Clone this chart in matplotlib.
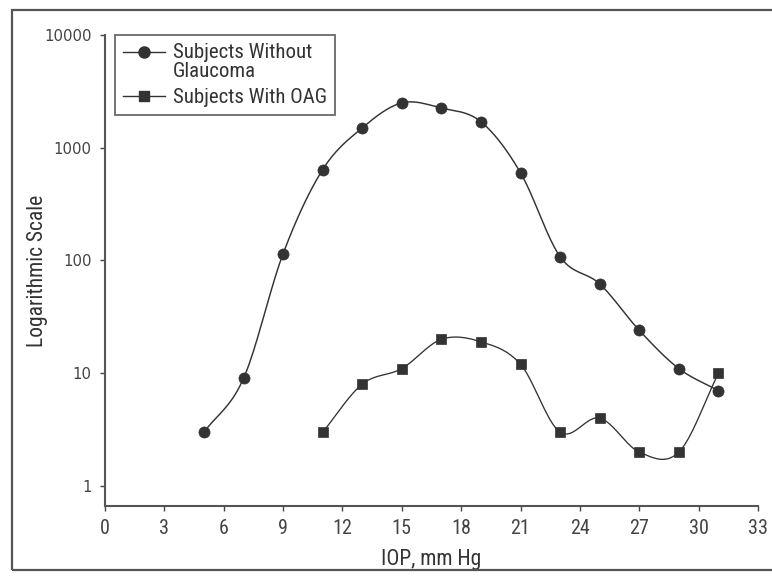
import numpy as np
import matplotlib
matplotlib.use("Agg")
import matplotlib.pyplot as plt
from matplotlib.patches import Rectangle
from matplotlib.lines import Line2D
from matplotlib.legend_handler import HandlerLine2D

x_no = [5, 7, 9, 11, 13, 15, 17, 19, 21, 23, 25, 27, 29, 31]
y_no = [3, 9, 115, 640, 1500, 2500, 2250, 1700, 600, 108, 62, 24, 11, 7]
x_oag = [11, 13, 15, 17, 19, 21, 23, 25, 27, 29, 31]
y_oag = [3, 8, 11, 20, 19, 12, 3, 4, 2, 2, 10]
xticks = list(range(0, 34, 3))
yticks = [1, 10, 100, 1000, 10000]
ytick_labels = ["1", "10", "100", "1000", "10000"]
labels = ['Subjects Without\nGlaucoma', 'Subjects With OAG']

COND = ['Roboto Condensed', 'Liberation Sans', 'DejaVu Sans']
plt.rcParams['font.family'] = COND

def smooth(xs, ys, n=20):
    xs = np.asarray(xs, float)
    ly = np.log10(np.asarray(ys, float))
    px = np.concatenate([[2*xs[0]-xs[1]], xs, [2*xs[-1]-xs[-2]]])
    py = np.concatenate([[2*ly[0]-ly[1]], ly, [2*ly[-1]-ly[-2]]])
    ox, oy = [], []
    for i in range(1, len(px)-2):
        t = np.linspace(0, 1, n, endpoint=False)
        for P, out in ((px, ox), (py, oy)):
            p0, p1, p2, p3 = P[i-1], P[i], P[i+1], P[i+2]
            out.extend(0.5*((2*p1) + (-p0+p2)*t + (2*p0-5*p1+4*p2-p3)*t**2 + (-p0+3*p1-3*p2+p3)*t**3))
    ox.append(xs[-1]); oy.append(ly[-1])
    return np.array(ox), 10**np.array(oy)

class ShiftedHandler(HandlerLine2D):
    def __init__(self, shift=0.0, **kw):
        super().__init__(**kw)
        self.shift = shift
    def create_artists(self, legend, orig_handle, xdescent, ydescent, width, height, fontsize, trans):
        return super().create_artists(legend, orig_handle, xdescent, ydescent - 2*self.shift,
                                      width, height, fontsize, trans)

W, H = 772, 578
AX_L, AX_R, AX_T, AX_B = 105, 758, 35, 506
fig = plt.figure(figsize=(W/100, H/100), dpi=100)
ax = fig.add_axes([AX_L/W, 1-AX_B/H, (AX_R-AX_L)/W, (AX_B-AX_T)/H])
ax.set_yscale('log')
ax.set_xlim(0, 33)
ax.set_ylim(10**(-20/112.7), 10000)

c = '#333333'
sx, sy = smooth(x_no, y_no)
ax.plot(sx, sy, color=c, lw=1.05)
ax.plot(x_no, y_no, 'o', color=c, ms=8, mew=0.5)
sx2, sy2 = smooth(x_oag, y_oag)
ax.plot(sx2, sy2, color=c, lw=0.95)
ax.plot(x_oag, y_oag, 's', color=c, ms=7.6, mew=0.5)

ax.set_xticks(xticks)
ax.set_xticklabels([str(t) for t in xticks])
ax.set_yticks(yticks)
ax.set_yticklabels(ytick_labels)
ax.yaxis.set_minor_locator(matplotlib.ticker.NullLocator())
ax.tick_params(direction='out', length=3.5, width=1, colors='#444')
ax.tick_params(axis='x', labelsize=14.5, pad=5.5)
ax.tick_params(axis='y', labelsize=10.7, pad=6)
for t in ax.get_yticklabels():
    t.set_family('DejaVu Sans')
for s in ['top', 'right']:
    ax.spines[s].set_visible(False)
for s in ['left', 'bottom']:
    ax.spines[s].set_color('#555')
    ax.spines[s].set_linewidth(1.5)
ax.set_xlabel('IOP, mm Hg', fontsize=15.5, color='#333', labelpad=8)
ax.set_ylabel('Logarithmic Scale', fontsize=15.5, color='#333')
ax.yaxis.set_label_coords(-0.087, 0.5)

h1 = Line2D([], [], color=c, lw=1, marker='o', ms=8)
h2 = Line2D([], [], color=c, lw=1, marker='s', ms=7.5)
leg = ax.legend([h1, h2], labels,
                loc='upper left', bbox_to_anchor=(10/(AX_R-AX_L), 1.0), fontsize=15,
                frameon=True, fancybox=False, edgecolor='#444', handlelength=2.0,
                borderpad=0.38, labelspacing=0.35, handletextpad=0.4, borderaxespad=0.0,
                handler_map={h1: ShiftedHandler(shift=7.0), h2: HandlerLine2D()})
leg.get_frame().set_linewidth(1.3)
for t in leg.get_texts():
    t.set_color('#333')
    t.set_linespacing(1.0)

fig.patches.append(Rectangle((12/W, 1-570/H), 1.0, (570-10)/H, transform=fig.transFigure,
                             fill=False, edgecolor='#555', lw=1.6))
fig.savefig('out.png', dpi=100)
